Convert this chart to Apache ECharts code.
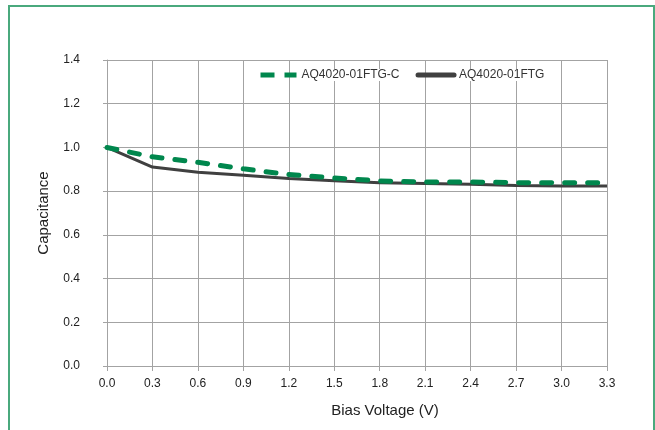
<!DOCTYPE html>
<html>
<head>
<meta charset="utf-8">
<script src="https://cdn.jsdelivr.net/npm/echarts@6/dist/echarts.min.js"></script>
<style>
  html, body { margin: 0; padding: 0; background: #fff; overflow: hidden; }
  #frame { position: absolute; left: 8px; top: 5px; width: 647px; height: 440px;
           border: 2px solid #4aa97d; border-bottom: none; box-sizing: border-box; }
  #chart { position: absolute; left: 0; top: 0; width: 655px; height: 430px; }
</style>
</head>
<body>
<div id="frame"></div>
<div id="chart"></div>
<script>
const biasVoltage = [0.0, 0.3, 0.6, 0.9, 1.2, 1.5, 1.8, 2.1, 2.4, 2.7, 3.0, 3.3];
const seriesCNames = ['AQ4020-01FTG-C', 'AQ4020-01FTG'];
const capAQ4020_01FTG_C = [1.0, 0.957, 0.932, 0.902, 0.876, 0.86, 0.847, 0.842, 0.842, 0.839, 0.838, 0.838];
const capAQ4020_01FTG   = [1.0, 0.91, 0.886, 0.873, 0.858, 0.847, 0.838, 0.835, 0.831, 0.826, 0.824, 0.824];

const toPairs = (xs, ys) => xs.map((x, i) => [x, ys[i]]);
const gridColor = '#a3a3a3';
const font = 'Liberation Sans, Arial, sans-serif';
const hidden = { color: 'rgba(0,0,0,0)', borderColor: 'rgba(0,0,0,0)', borderWidth: 0 };

const chart = echarts.init(document.getElementById('chart'), null, { renderer: 'canvas' });
chart.setOption({
  animation: false,
  textStyle: { fontFamily: font },
  grid: { left: 107, right: 48, top: 60, bottom: 64, containLabel: false },
  legend: {
    top: 69, left: 258, padding: 0,
    itemWidth: 36, itemHeight: 6, itemGap: 16,
    textStyle: { fontSize: 12, color: '#333', fontFamily: font, backgroundColor: '#fff' },
    data: [
      { name: seriesCNames[0], itemStyle: hidden, lineStyle: { width: 5, type: [14, 10], color: '#00874d', cap: 'butt' } },
      { name: seriesCNames[1], itemStyle: hidden, lineStyle: { width: 5, color: '#404040', cap: 'round' } }
    ]
  },
  xAxis: {
    type: 'value', min: 0, max: 3.3, interval: 0.3,
    name: 'Bias Voltage (V)', nameLocation: 'middle', nameGap: 37,
    nameTextStyle: { fontSize: 15, color: '#222', padding: [0, 0, 0, 56] },
    axisLine: { show: true, lineStyle: { color: gridColor, width: 1 } },
    axisTick: { show: true, length: 5, lineStyle: { color: gridColor } },
    axisLabel: { fontSize: 12, color: '#222', margin: 12, formatter: v => v.toFixed(1) },
    splitLine: { show: true, lineStyle: { color: gridColor, width: 1 } }
  },
  yAxis: {
    type: 'value', min: 0, max: 1.4, interval: 0.2,
    name: 'Capacitance', nameLocation: 'middle', nameGap: 56, nameRotate: 90,
    nameTextStyle: { fontSize: 15, color: '#222' },
    axisLine: { show: true, lineStyle: { color: gridColor, width: 1 } },
    axisTick: { show: true, length: 4, lineStyle: { color: gridColor } },
    axisLabel: { fontSize: 12, color: '#222', margin: 27, formatter: v => v.toFixed(1) },
    splitLine: { show: true, lineStyle: { color: gridColor, width: 1 } }
  },
  series: [
    {
      name: seriesCNames[0], type: 'line', symbol: 'none', z: 3,
      data: toPairs(biasVoltage, capAQ4020_01FTG_C),
      itemStyle: { color: '#00874d' },
      lineStyle: { color: '#00874d', width: 5, type: [10, 13], cap: 'round' }
    },
    {
      name: seriesCNames[1], type: 'line', symbol: 'none', z: 2,
      data: toPairs(biasVoltage, capAQ4020_01FTG),
      itemStyle: { color: '#404040' },
      lineStyle: { color: '#404040', width: 3 }
    }
  ]
});
</script>
</body>
</html>
